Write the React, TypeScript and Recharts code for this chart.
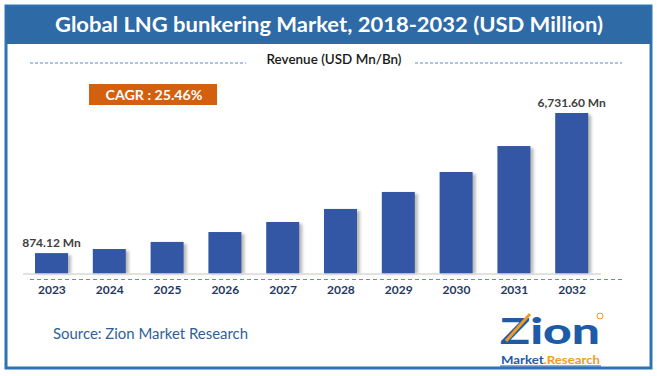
import { BarChart, Bar, XAxis, YAxis, LabelList } from 'recharts';

// values (USD Million)
const years = ['2023', '2024', '2025', '2026', '2027', '2028', '2029', '2030', '2031', '2032'];
const revenue = [874.12, 1045, 1340, 1755, 2175, 2720, 3430, 4265, 5350, 6731.6];
const valueLabels = ['874.12 Mn', '', '', '', '', '', '', '', '', '6,731.60 Mn'];

const data = years.map((year, i) => ({ year, revenue: revenue[i], label: valueLabels[i] }));

const FONT = 'Lato, "Open Sans", sans-serif';
const BAR = '#3457A5';
const FRAME = '#2E74B5';

function ShadowBar(props: any) {
  const { x, y, width, height } = props;
  if (!height || height <= 0) return null;
  return (
    <g>
      <rect x={x + 3} y={y + 2} width={width} height={height - 2} fill="#7f7f7f" opacity={0.55} filter="url(#barBlur)" />
      <rect x={x} y={y} width={width} height={height} fill={BAR} />
    </g>
  );
}

function YearTick(props: any) {
  const { x, y, payload } = props;
  return (
    <text x={x} y={y + 20} textAnchor="middle" fill="#1F3864" fontFamily={FONT} fontWeight={700} fontSize={12}>
      {payload.value}
    </text>
  );
}

// no wrapping, only the first and last bar carry a label
function ValueLabel(props: any) {
  const { x, y, width, value } = props;
  if (!value) return null;
  return (
    <text x={x + width / 2} y={y - 6} textAnchor="middle" fill="#404040" fontFamily={FONT} fontWeight={700} fontSize={12}>
      {value}
    </text>
  );
}

export default function App() {
  return (
    <div style={{ position: 'absolute', left: 0, top: 0, width: 657, height: 376, background: '#fff', overflow: 'hidden' }}>
      <svg width={657} height={376} style={{ position: 'absolute', left: 0, top: 0 }}>
        <defs>
          <filter id="barBlur" x="-50%" y="-10%" width="200%" height="120%">
            <feGaussianBlur stdDeviation="1.6" />
          </filter>
        </defs>
        <rect x={6} y={6} width={645} height={362} fill="#fff" stroke={FRAME} strokeWidth={3} />
        <rect x={6} y={6} width={645} height={38} fill="#2E6AA6" />
        <text x={329} y={32} textAnchor="middle" fill="#fff" fontFamily={FONT} fontWeight={700} fontSize={20}
          textLength={548} lengthAdjust="spacingAndGlyphs">
          Global LNG bunkering Market, 2018-2032 (USD Million)
        </text>
        <line x1={30} y1={63} x2={246} y2={63} stroke="#5B8BD0" strokeDasharray="3 2" strokeWidth={1} />
        <line x1={415} y1={63} x2={622} y2={63} stroke="#5B8BD0" strokeDasharray="3 2" strokeWidth={1} />
        <text x={334} y={64} textAnchor="middle" fill="#1a1a1a" fontFamily={FONT} fontWeight={600} fontSize={12.5}
          textLength={135} lengthAdjust="spacingAndGlyphs">
          Revenue (USD Mn/Bn)
        </text>
        <rect x={89} y={84} width={128} height={21} fill="#D2600F" />
        <text x={154} y={99.5} textAnchor="middle" fill="#fff" fontFamily={FONT} fontWeight={700} fontSize={14}
          textLength={97} lengthAdjust="spacingAndGlyphs">
          CAGR : 25.46%
        </text>
        <line x1={30} y1={279.5} x2={622} y2={279.5} stroke="#5B8BD0" strokeDasharray="4 3" strokeWidth={1} />
        <text x={53} y={339} fill="#2F5F98" fontFamily={FONT} fontSize={15.5}
          textLength={195} lengthAdjust="spacingAndGlyphs">
          Source: Zion Market Research
        </text>
        {/* logo */}
        <text x={500} y={344} fill="#1D5BA8" fontFamily={FONT} fontWeight={900} fontSize={36}
          textLength={100} lengthAdjust="spacingAndGlyphs">
          Zion
        </text>
        <line x1={506} y1={341} x2={530} y2={314} stroke="#F29A1F" strokeWidth={3} />
        <circle cx={600} cy={316} r={3} fill="none" stroke="#F29A1F" strokeWidth={1} />
        <text x={501} y={364} fill="#1D5BA8" fontFamily={FONT} fontWeight={700} fontSize={10.5}
          textLength={99} lengthAdjust="spacingAndGlyphs">
          Market<tspan fill="#F29A1F">.Research</tspan>
        </text>
        <line x1={500} y1={366} x2={601} y2={366} stroke="#1D5BA8" strokeWidth={1} />
      </svg>
      <div style={{ position: 'absolute', left: 0, top: 0 }}>
        <BarChart width={657} height={376} data={data} margin={{ top: 113, right: 56, bottom: 72, left: 23 }}>
          <XAxis dataKey="year" height={30} tickLine={false} tickSize={0} tickMargin={0}
            axisLine={{ stroke: '#D9D9D9', strokeWidth: 1.5 }} tick={<YearTick />} interval={0} />
          <YAxis hide domain={[0, 'dataMax']} />
          <Bar dataKey="revenue" barSize={33} shape={<ShadowBar />} isAnimationActive={false}>
            <LabelList dataKey="label" content={<ValueLabel />} />
          </Bar>
        </BarChart>
      </div>
    </div>
  );
}
